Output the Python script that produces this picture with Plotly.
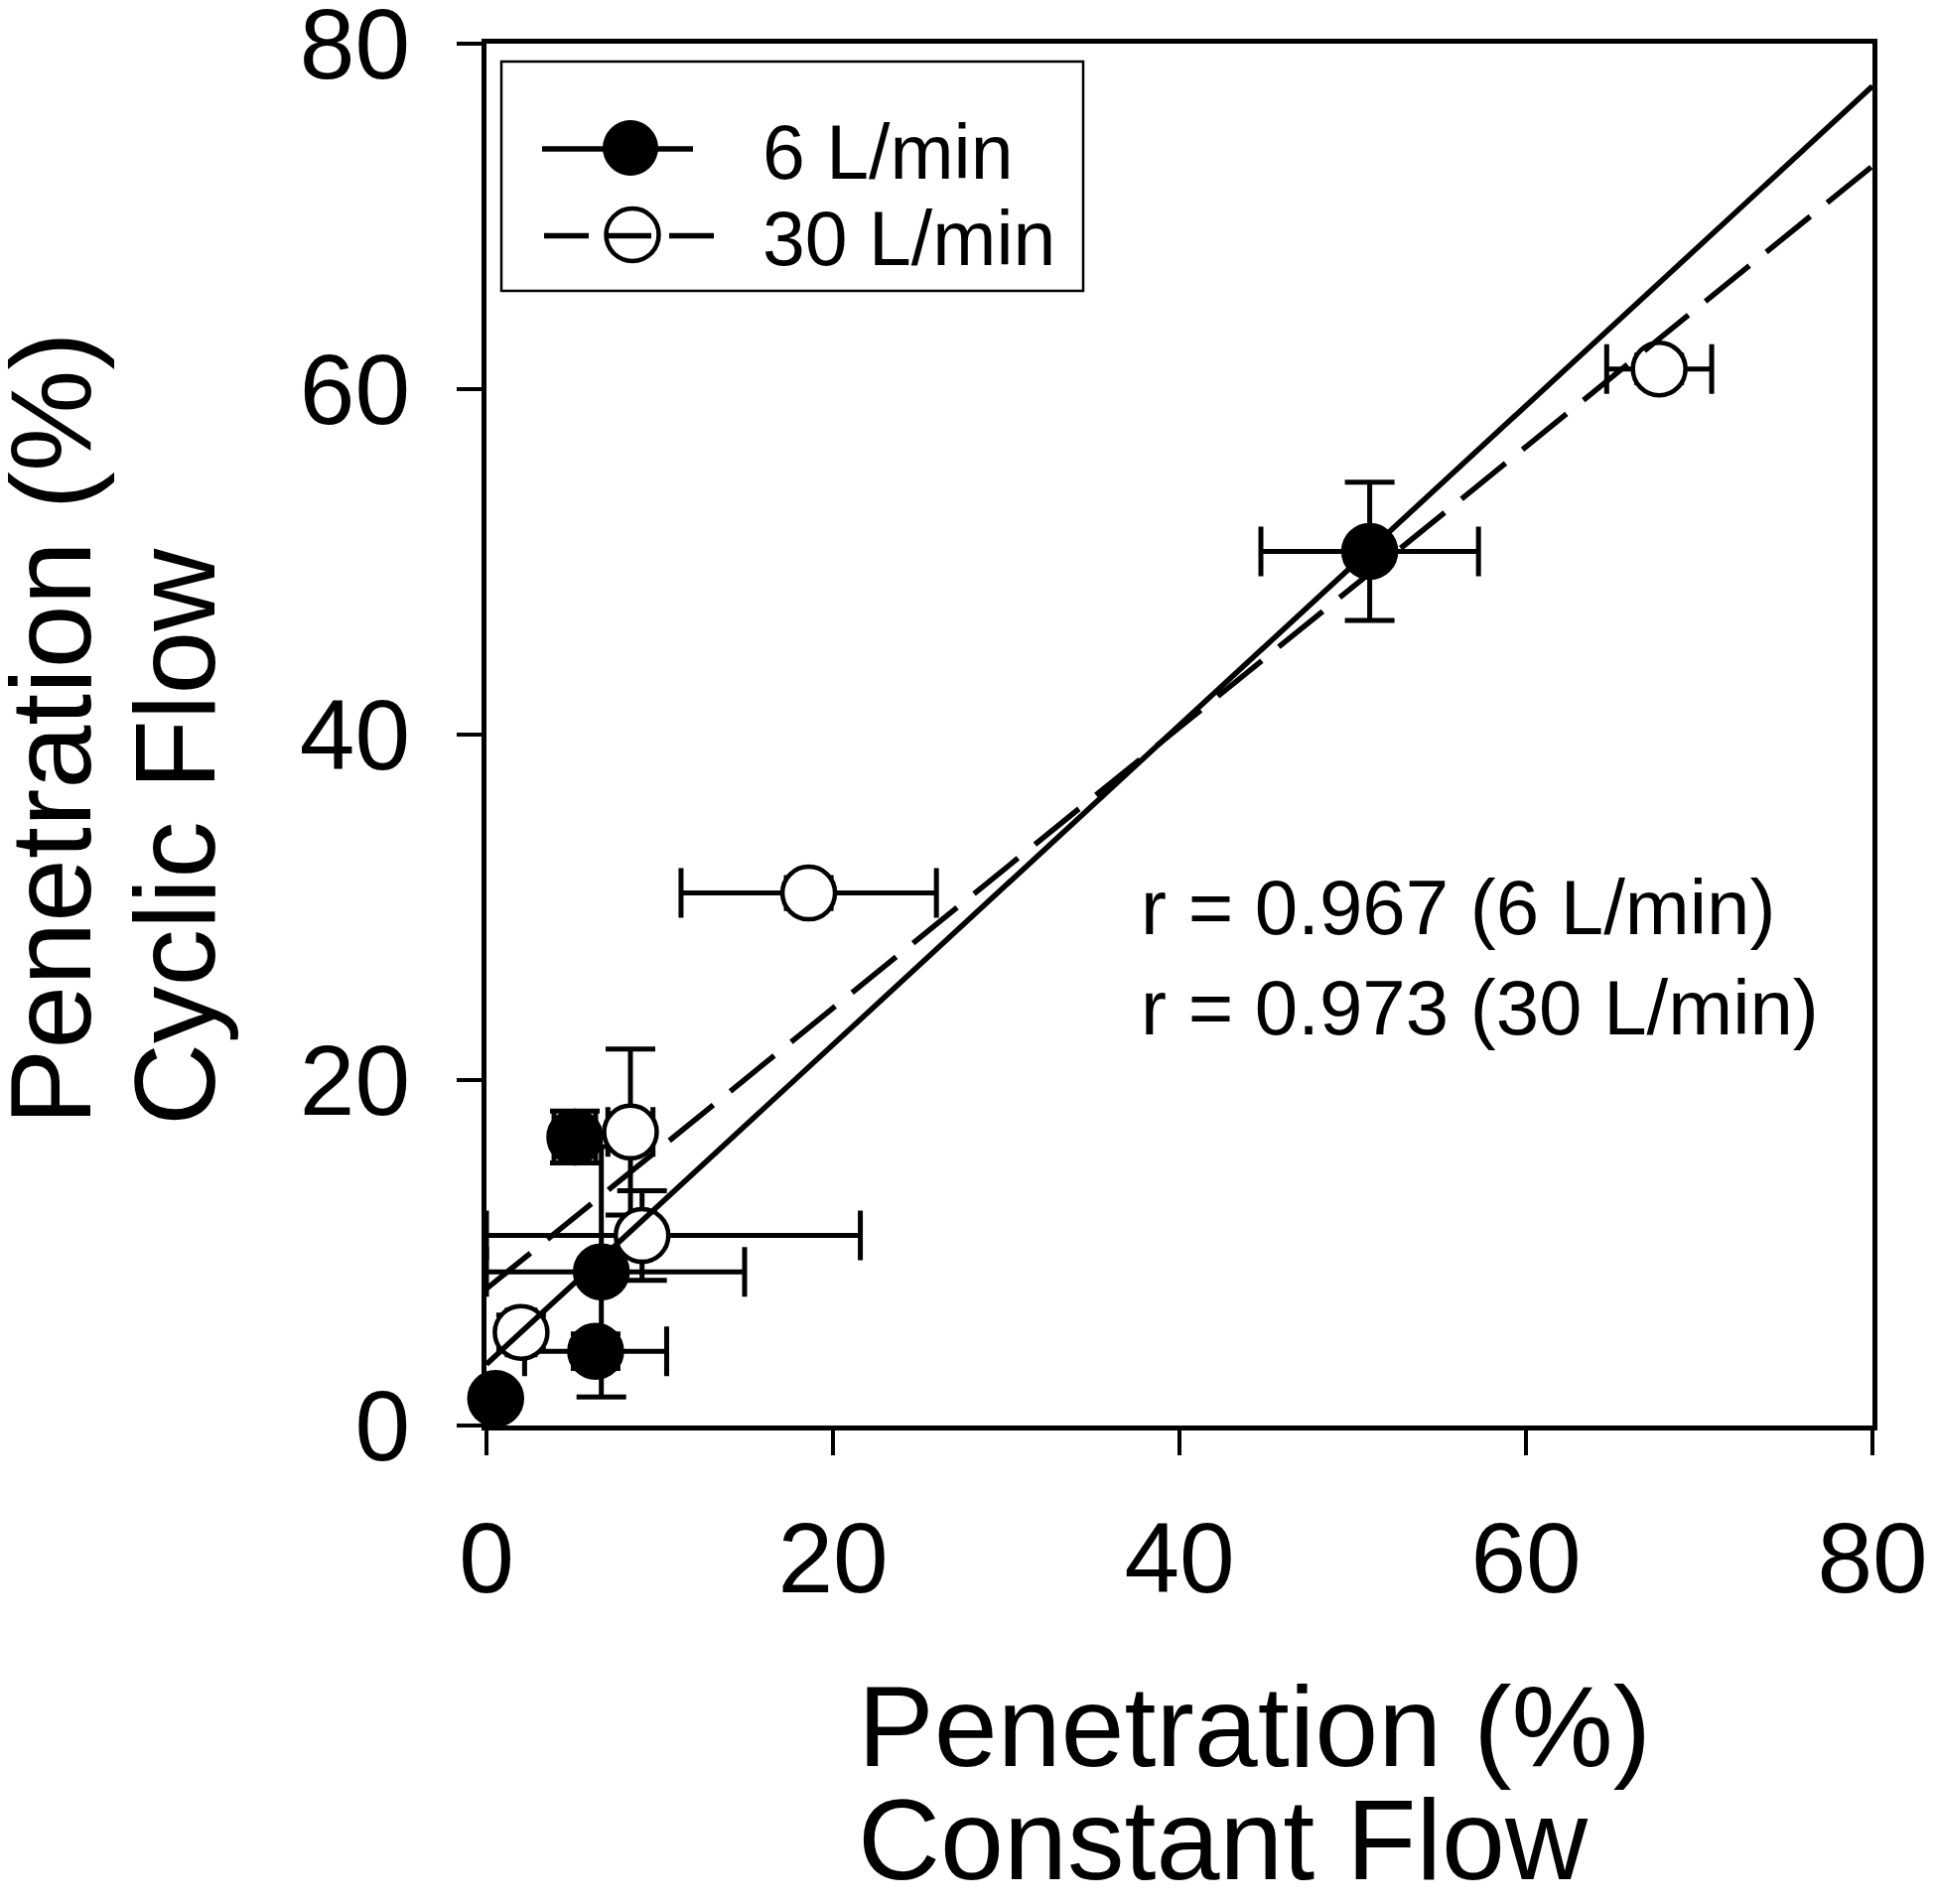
import numpy as np
import plotly.graph_objects as go

# ---- data ----
# 6 L/min (filled circles, solid regression line)
x6 = [0.53, 6.30, 6.63, 5.10, 50.98]
y6 = [1.56, 4.30, 8.90, 16.70, 50.61]
x6_err = [0.0, 4.10, 8.27, 1.20, 6.28]
y6_err = [0.0, 1.00, 7.25, 1.50, 4.00]

# 30 L/min (open circles, dashed regression line)
x30 = [2.00, 8.31, 8.98, 18.60, 67.69]
y30 = [5.39, 16.99, 11.00, 30.83, 61.17]
x30_err = [0.80, 1.30, 12.60, 7.37, 3.03]
y30_err = [1.00, 4.80, 2.59, 0.90, 0.80]

series_names = ["6 L/min", "30 L/min"]
r_labels = ["r = 0.967 (6 L/min)", "r = 0.973 (30 L/min)"]
tick_vals = [0, 20, 40, 60, 80]
x_title_lines = ["Penetration (%)", "Constant Flow"]
y_title_lines = ["Penetration (%)", "Cyclic Flow"]
axis_range = [0, 80]

FONT = "Liberation Sans, Arial, Helvetica, sans-serif"

W, H = 1950, 1918
ML, MR, MT, MB = 490, 64, 44, 482
PW, PH = W - ML - MR, H - MT - MB


def PX(xp):
    return (xp - ML) / PW


def PY(yp):
    return (H - MB - yp) / PH


def minus_clip(vals, errs, lo):
    # error bars stop at the axis (lower limit of the range)
    return [min(e, v - lo) for v, e in zip(vals, errs)]


ERR = dict(color="black", thickness=5, width=25)
MSIZE, MLINE = 53, 4.5

fig = go.Figure()

# 6 L/min points with error bars
fig.add_trace(go.Scatter(
    x=x6, y=y6, mode="markers", name=series_names[0], cliponaxis=False,
    marker=dict(symbol="circle", size=MSIZE, color="black",
                line=dict(color="black", width=MLINE)),
    error_x=dict(type="data", symmetric=False, array=x6_err,
                 arrayminus=minus_clip(x6, x6_err, axis_range[0]), **ERR),
    error_y=dict(type="data", symmetric=False, array=y6_err,
                 arrayminus=minus_clip(y6, y6_err, axis_range[0]), **ERR),
))

# 30 L/min points with error bars
fig.add_trace(go.Scatter(
    x=x30, y=y30, mode="markers", name=series_names[1], cliponaxis=False,
    marker=dict(symbol="circle", size=MSIZE, color="white",
                line=dict(color="black", width=MLINE)),
    error_x=dict(type="data", symmetric=False, array=x30_err,
                 arrayminus=minus_clip(x30, x30_err, axis_range[0]), **ERR),
    error_y=dict(type="data", symmetric=False, array=y30_err,
                 arrayminus=minus_clip(y30, y30_err, axis_range[0]), **ERR),
))

# regression lines (least squares on the data)
fit_x = np.array(axis_range, dtype=float)
for xs, ys, dash, nm in [(x6, y6, "solid", series_names[0]),
                         (x30, y30, "57px,22px", series_names[1])]:
    b1, b0 = np.polyfit(xs, ys, 1)
    fig.add_trace(go.Scatter(
        x=fit_x, y=b0 + b1 * fit_x, mode="lines", name=nm + " fit",
        cliponaxis=False, line=dict(color="black", width=5.5, dash=dash),
        hoverinfo="skip",
    ))

axis_common = dict(
    range=axis_range, tickvals=tick_vals, ticks="outside", ticklen=25,
    tickwidth=4, tickcolor="black", showline=True, linecolor="black",
    linewidth=5, mirror=True, showgrid=False, zeroline=False,
    ticklabeloverflow="allow", automargin=False,
    tickfont=dict(family=FONT, size=100, color="black"),
)
fig.update_xaxes(**axis_common, ticklabelstandoff=18)
fig.update_yaxes(**axis_common, ticklabelstandoff=27)

annotations = []
# r values
annotations.append(dict(
    x=37.65, y=27.1, xref="x", yref="y", xanchor="left", yanchor="middle",
    text="<br>".join(r_labels), align="left", showarrow=False,
    font=dict(family=FONT, size=78, color="black"),
))
# x-axis title (two left-aligned lines)
for txt, yp in zip(x_title_lines, [1739, 1853]):
    annotations.append(dict(
        x=PX(862), y=PY(yp), xref="paper", yref="paper",
        xanchor="left", yanchor="middle", text=txt, showarrow=False,
        font=dict(family=FONT, size=115, color="black"),
    ))
# y-axis title (two rotated lines, starting at the same height)
for txt, xpix in zip(y_title_lines, [50, 176]):
    annotations.append(dict(
        x=PX(xpix), y=PY(1136), xref="paper", yref="paper",
        xanchor="center", yanchor="bottom", textangle=-90, text=txt,
        showarrow=False, font=dict(family=FONT, size=115, color="black"),
    ))

# legend (box, sample lines, symbols and labels)
shapes = [
    dict(type="rect", xref="paper", yref="paper", x0=PX(505), x1=PX(1091),
         y0=PY(293), y1=PY(62), line=dict(color="black", width=2.5),
         fillcolor="white", layer="above"),
    dict(type="line", xref="paper", yref="paper", x0=PX(546), x1=PX(698),
         y0=PY(150), y1=PY(150), line=dict(color="black", width=5.5)),
    dict(type="circle", xref="paper", yref="paper", xsizemode="pixel",
         ysizemode="pixel", xanchor=PX(635), yanchor=PY(149),
         x0=-27.5, x1=27.5, y0=-27.5, y1=27.5,
         fillcolor="black", line=dict(color="black", width=1)),
    dict(type="line", xref="paper", yref="paper", x0=PX(548), x1=PX(721),
         y0=PY(237.5), y1=PY(237.5),
         line=dict(color="black", width=5.5, dash="45px,18px")),
    dict(type="circle", xref="paper", yref="paper", xsizemode="pixel",
         ysizemode="pixel", xanchor=PX(637), yanchor=PY(236.5),
         x0=-26.5, x1=26.5, y0=-26.5, y1=26.5,
         fillcolor="rgba(0,0,0,0)", line=dict(color="black", width=4.5)),
]
for txt, yp in zip(series_names, [153, 240]):
    annotations.append(dict(
        x=PX(766), y=PY(yp), xref="paper", yref="paper", xanchor="left",
        yanchor="middle", text=txt, showarrow=False,
        font=dict(family=FONT, size=77, color="black"),
    ))

fig.update_layout(
    width=W, height=H,
    margin=dict(l=ML, r=MR, t=MT, b=MB, pad=0, autoexpand=False),
    plot_bgcolor="white", paper_bgcolor="white",
    font=dict(family=FONT, color="black"),
    showlegend=False,
    annotations=annotations,
    shapes=shapes,
)

fig.write_html(
    "out.html",
    config={"displayModeBar": False},
    post_script="document.body.style.margin='0';document.body.style.padding='0';",
)
